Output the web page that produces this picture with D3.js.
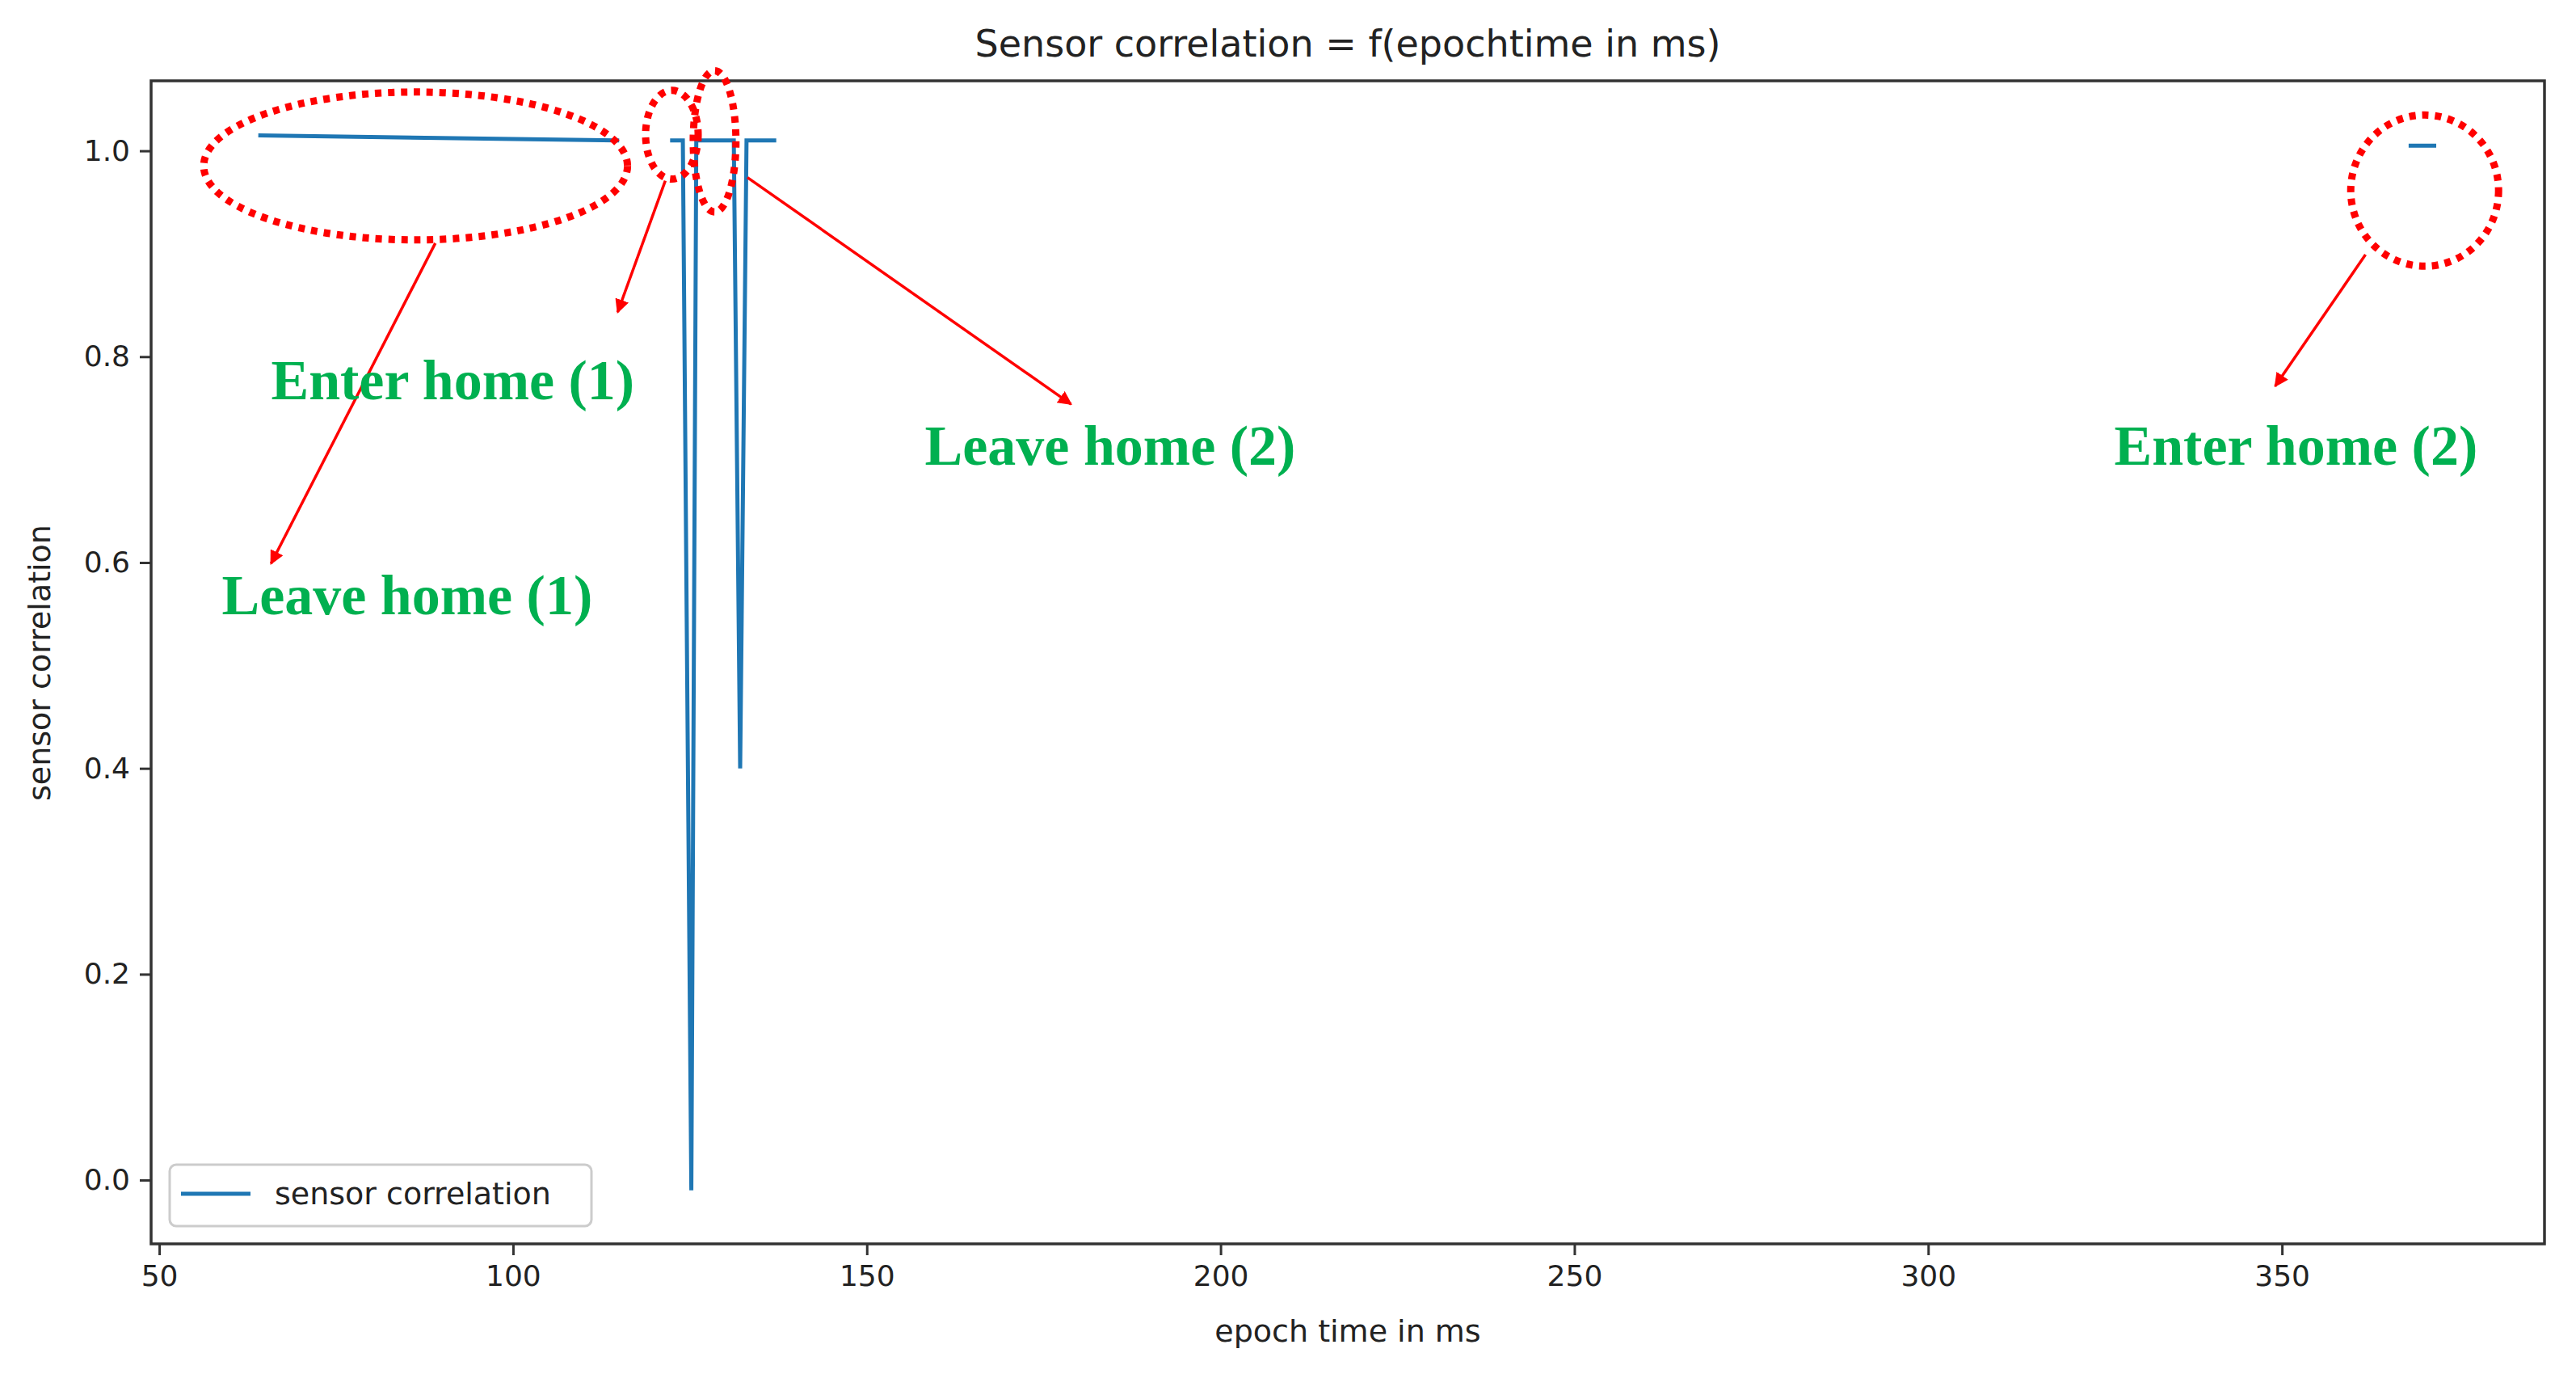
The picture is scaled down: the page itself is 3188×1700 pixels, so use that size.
<!DOCTYPE html>
<html><head><meta charset="utf-8">
<script src="https://cdn.jsdelivr.net/npm/d3@7"></script>
<style>body{margin:0;background:#fff}</style></head>
<body><svg id="c" width="3188" height="1700"></svg>
<script>
// data: segments separated by null
const epochTime = [64, 115, null, 122.2, 124.0, 125.2, 125.9, 131.2, 132.1, 133.0, 137.2, null, 367.9, 371.8];
const correlation = [1.015, 1.01, null, 1.01, 1.01, -0.01, 1.01, 1.01, 0.40, 1.01, 1.01, null, 1.005, 1.005];
const xTicks = [50, 100, 150, 200, 250, 300, 350];
const yTicks = [0.0, 0.2, 0.4, 0.6, 0.8, 1.0];
const annotations = ["Enter home (1)", "Leave home (1)", "Leave home (2)", "Enter home (2)"];

const S = 2.033;
const svg = d3.select("#c");
const L = 187, R = 3149, T = 100, B = 1539;
const x = d3.scaleLinear().domain([48.85, 387.1]).range([L, R]);
const y = d3.scaleLinear().domain([-0.062, 1.068]).range([B, T]);

const pts = epochTime.map((t, i) => ({t, v: correlation[i]}));
const line = d3.line().defined(d => d.t !== null).x(d => x(d.t)).y(d => y(d.v));
svg.append("path").datum(pts).attr("d", line).attr("fill", "none")
  .attr("stroke", "#1f77b4").attr("stroke-width", 5);

const fam = "DejaVu Sans, sans-serif";
const xa = svg.append("g").attr("transform", `translate(0,${B})`)
  .call(d3.axisBottom(x).tickValues(xTicks).tickFormat(d3.format("d")).tickSize(14).tickPadding(12));
const ya = svg.append("g").attr("transform", `translate(${L},0)`)
  .call(d3.axisLeft(y).tickValues(yTicks).tickFormat(d3.format(".1f")).tickSize(14).tickPadding(12));
[xa, ya].forEach(a => {
  a.select(".domain").remove();
  a.selectAll("line").attr("stroke", "#333").attr("stroke-width", 3);
  a.selectAll("text").attr("font-family", fam).attr("font-size", 36).attr("fill", "#222");
});
svg.append("rect").attr("x", L).attr("y", T).attr("width", R - L).attr("height", B - T)
  .attr("fill", "none").attr("stroke", "#333").attr("stroke-width", 3.5);

svg.append("text").attr("x", (L + R) / 2).attr("y", 70).attr("text-anchor", "middle")
  .attr("font-family", fam).attr("font-size", 46).attr("fill", "#222").text("Sensor correlation = f(epochtime in ms)");
svg.append("text").attr("x", (L + R) / 2).attr("y", 1660).attr("text-anchor", "middle")
  .attr("font-family", fam).attr("font-size", 38).attr("fill", "#222").text("epoch time in ms");
svg.append("text").attr("transform", "translate(62,820) rotate(-90)").attr("text-anchor", "middle")
  .attr("font-family", fam).attr("font-size", 38).attr("fill", "#222").text("sensor correlation");

// legend
const lg = svg.append("g");
lg.append("rect").attr("x", 210).attr("y", 1441).attr("width", 522).attr("height", 76).attr("rx", 8)
  .attr("fill", "#fff").attr("stroke", "#ccc").attr("stroke-width", 3);
lg.append("line").attr("x1", 224).attr("x2", 310).attr("y1", 1477).attr("y2", 1477)
  .attr("stroke", "#1f77b4").attr("stroke-width", 5);
lg.append("text").attr("x", 340).attr("y", 1490).attr("font-family", fam).attr("font-size", 38)
  .attr("fill", "#222").text("sensor correlation");

// annotations (display coords * S)
const defs = svg.append("defs");
defs.append("marker").attr("id", "ah").attr("viewBox", "0 0 10 10").attr("refX", 9).attr("refY", 5)
  .attr("markerWidth", 5).attr("markerHeight", 5).attr("orient", "auto")
  .append("path").attr("d", "M0,0L10,5L0,10z").attr("fill", "red");
const ells = [[253,101,129,45],[409,82,16,27],[435,86,13,43],[1476,116,45,46]];
ells.forEach(e => svg.append("ellipse").attr("cx", e[0]*S).attr("cy", e[1]*S).attr("rx", e[2]*S).attr("ry", e[3]*S)
  .attr("fill", "none").attr("stroke", "red").attr("stroke-width", 9).attr("stroke-dasharray", "8 8"));
const arrows = [[265,148,165,343],[405,110,376,190],[455,108,652,246],[1440,155,1385,235]];
arrows.forEach(a => svg.append("line").attr("x1", a[0]*S).attr("y1", a[1]*S).attr("x2", a[2]*S).attr("y2", a[3]*S)
  .attr("stroke", "red").attr("stroke-width", 3.5).attr("marker-end", "url(#ah)"));
const labPos = [[165,243],[135,374],[563,283],[1287,283]];
annotations.forEach((t, i) => svg.append("text").attr("x", labPos[i][0]*S).attr("y", labPos[i][1]*S)
  .attr("font-family", "Liberation Serif, serif").attr("font-weight", "bold").attr("font-size", 70)
  .attr("fill", "#00b050").text(t));
</script></body></html>
